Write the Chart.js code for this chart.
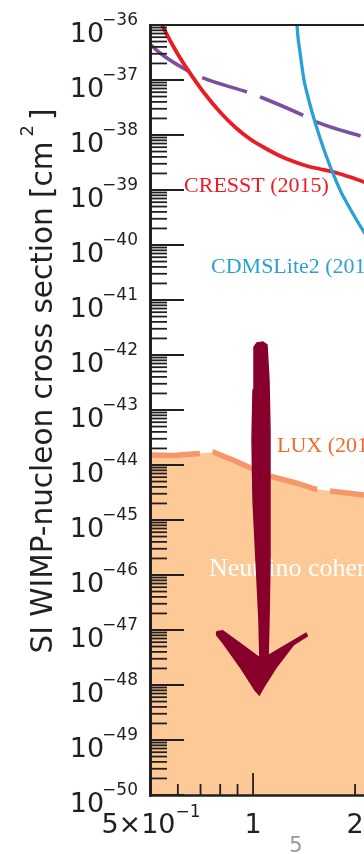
<!DOCTYPE html>
<html>
<head>
<meta charset="utf-8">
<script src="https://cdn.jsdelivr.net/npm/chart.js@4/dist/chart.umd.min.js"></script>
<style>
  html, body { margin: 0; padding: 0; background: #ffffff; overflow: hidden; }
  canvas { display: block; }
</style>
</head>
<body>
<canvas id="chart" width="364" height="854"></canvas>
<script>
// ---- axis ranges (WIMP mass in GeV, SI cross section in cm^2) ----
const massMin = 0.5;
const massMax = 2.125;
const sigmaMin = 1e-50;
const sigmaMax = 1e-36;

// ---- tick labels ----
const yLabelExponents = [-36, -37, -38, -39, -40, -41, -42, -43, -44, -45, -46, -47, -48, -49, -50];
const xLabelValues = [0.5, 1, 2];
const xLabelMain = ['5\u00d710', '1', '2'];
const xLabelSup = ['\u22121', '', ''];
const xMajorTicks = [1];
const xMinorTicks = [0.6, 0.7, 0.8, 0.9, 2];

// ---- CRESST (2015) limit ----
const cresstMass  = [0.521, 0.539, 0.5766, 0.6172, 0.6607, 0.7214, 0.7989, 0.8845, 0.9796, 1.0845, 1.2013, 1.3295, 1.4426, 1.5761, 1.769, 1.9323, 2.1247, 2.29];
const cresstSigma = [1.52e-36, 1.0e-36, 4.51e-37, 2.21e-37, 1.18e-37, 5.56e-38, 2.62e-38, 1.40e-38, 8.46e-39, 5.8e-39, 4.15e-39, 3.23e-39, 2.73e-39, 2.41e-39, 2.04e-39, 1.72e-39, 1.40e-39, 1.18e-39];

// ---- dashed purple limit ----
const purpleMass  = [0.5, 0.5315, 0.6213, 0.7116, 0.9796, 1.0697, 1.4426, 1.5441, 2.1247, 2.369];
const purpleSigma = [4.33e-37, 3.10e-37, 1.65e-37, 1.09e-37, 5.8e-38, 4.71e-38, 2.12e-38, 1.72e-38, 9.2e-39, 7.5e-39];

// ---- CDMSLite2 (2015) limit ----
const cdmsMass  = [1.3386, 1.3477, 1.3569, 1.3756, 1.4135, 1.4426, 1.4927, 1.5761, 1.6525, 1.7333, 1.8176, 1.9063, 2.0127, 2.1247, 2.2434];
const cdmsSigma = [1.52e-36, 1e-36, 6.05e-37, 3.23e-37, 1e-37, 5.8e-38, 2.62e-38, 8.82e-39, 3.82e-39, 1.80e-39, 9.2e-40, 5.34e-40, 2.97e-40, 1.72e-40, 1.04e-40];

// ---- LUX limit (edge of the shaded region) ----
const luxMass  = [0.5, 0.5806, 0.6974, 0.7617, 0.8726, 1.0, 1.1452, 1.3386, 1.5233, 1.6865, 2.1247, 2.369];
const luxSigma = [1.52e-44, 1.49e-44, 1.62e-44, 1.72e-44, 1.23e-44, 8.46e-45, 6.05e-45, 4.71e-45, 3.66e-45, 3.37e-45, 2.85e-45, 2.6e-45];

// ---- hand-drawn downward arrow (outline of shaft and head) ----
const arrowShaftMass  = [1.0065, 1.0272, 1.0697, 1.0993, 1.1144, 1.1220, 1.1220, 1.1220, 1.1144, 1.1069, 1.0483, 1.0412, 1.0202, 1.0, 0.9931, 1.0, 1.0065];
const arrowShaftSigma = [1.40e-42, 1.65e-42, 1.72e-42, 1.52e-42, 3.51e-43, 4.33e-44, 2.31e-45, 1.87e-46, 1.52e-47, 2.85e-48, 2.62e-48, 1.52e-47, 1.87e-46, 2.31e-45, 2.85e-44, 2.31e-43, 1.40e-42];
const arrowHeadMass  = [0.7811, 0.8136, 0.9151, 1.0605, 1.2283, 1.4329, 1.4456, 1.3145, 1.1741, 1.0845, 1.0434, 1.0133, 0.9151, 0.8169, 0.7811, 0.7811];
const arrowHeadSigma = [9.31e-48, 9.71e-48, 5.73e-48, 2.93e-48, 4.97e-48, 8.71e-48, 7.78e-48, 5.34e-48, 2.15e-48, 1.0e-48, 6.58e-49, 8.11e-49, 2.15e-48, 5.73e-48, 8.11e-48, 9.31e-48];

const INK = '#231f20';
const ARROW = '#87002c';
const SANS = '"DejaVu Sans", sans-serif';
const SERIF = '"Liberation Serif", "Times New Roman", serif';

const toPoints = (xs, ys) => xs.map((v, i) => ({ x: v, y: ys[i] }));

// curve labels, anchored in data units (left edge, baseline)
const curveLabels = [
  { text: 'CRESST (2015)', mass: 0.626, sigma: 9.2e-40, color: '#ec1c24', size: 22 },
  { text: 'CDMSLite2 (2015)', mass: 0.7516, sigma: 3.1e-41, color: '#2b9fd8', size: 22 },
  { text: 'LUX (2016)', mass: 1.1765, sigma: 1.72e-44, color: '#f26a2c', size: 22 },
  { text: 'Neutrino coherent scattering', mass: 0.7414, sigma: 9.6e-47, color: '#ffffff', size: 26 }
];

function drawCurveLabels(chart) {
  const { ctx, scales: { x, y } } = chart;
  ctx.save();
  ctx.textAlign = 'left';
  ctx.textBaseline = 'alphabetic';
  for (const l of curveLabels) {
    ctx.font = l.size + 'px ' + SERIF;
    ctx.fillStyle = l.color;
    ctx.fillText(l.text, x.getPixelForValue(l.mass), y.getPixelForValue(l.sigma));
  }
  ctx.restore();
}

const axesFrame = {
  id: 'axesFrame',
  afterDatasetDraw(chart, args) {
    if (chart.data.datasets[args.index].label === 'LUX') drawCurveLabels(chart);
  },
  afterDatasetsDraw(chart) {
    const { ctx, chartArea: a, scales: { x, y } } = chart;
    ctx.save();
    ctx.strokeStyle = INK;
    ctx.lineCap = 'butt';

    // y ticks (inside the frame): decades long, 2..9 short
    ctx.lineWidth = 1.8;
    for (const e of yLabelExponents) {
      const py = y.getPixelForValue(Math.pow(10, e));
      ctx.beginPath(); ctx.moveTo(a.left, py); ctx.lineTo(a.left + 33, py); ctx.stroke();
      if (e > -50) {
        for (let m = 2; m <= 9; m++) {
          const pm = y.getPixelForValue(m * Math.pow(10, e - 1));
          ctx.beginPath(); ctx.moveTo(a.left, pm); ctx.lineTo(a.left + 16, pm); ctx.stroke();
        }
      }
    }
    // x ticks
    for (const v of xMajorTicks) {
      const px = x.getPixelForValue(v);
      ctx.beginPath(); ctx.moveTo(px, a.bottom); ctx.lineTo(px, a.bottom - 22); ctx.stroke();
    }
    for (const v of xMinorTicks) {
      const px = x.getPixelForValue(v);
      ctx.beginPath(); ctx.moveTo(px, a.bottom); ctx.lineTo(px, a.bottom - 11); ctx.stroke();
    }

    // frame: left, bottom, top
    ctx.lineWidth = 3;
    ctx.beginPath(); ctx.moveTo(a.left - 0.5, a.top - 1); ctx.lineTo(a.left - 0.5, a.bottom + 1.5); ctx.stroke();
    ctx.lineWidth = 2.5;
    ctx.beginPath(); ctx.moveTo(a.left - 2, a.bottom + 0.5); ctx.lineTo(a.right, a.bottom + 0.5); ctx.stroke();
    ctx.lineWidth = 2;
    ctx.beginPath(); ctx.moveTo(a.left - 2, a.top); ctx.lineTo(a.right, a.top); ctx.stroke();

    // y tick labels: 10^e, right aligned
    ctx.fillStyle = INK;
    ctx.textBaseline = 'alphabetic';
    ctx.textAlign = 'left';
    const mainFont = '27px ' + SANS;
    const supFont = '17px ' + SANS;
    for (const e of yLabelExponents) {
      const py = y.getPixelForValue(Math.pow(10, e));
      const sup = '\u2212' + String(-e);
      ctx.font = supFont;
      const wSup = ctx.measureText(sup).width;
      ctx.font = mainFont;
      const wMain = ctx.measureText('10').width;
      const xSup = a.left - 13 - wSup;
      ctx.fillText('10', xSup - wMain + 2, py + 17);
      ctx.font = supFont;
      ctx.fillText(sup, xSup, py);
    }

    // x tick labels
    for (let i = 0; i < xLabelValues.length; i++) {
      const px = x.getPixelForValue(xLabelValues[i]);
      ctx.font = mainFont;
      const wMain = ctx.measureText(xLabelMain[i]).width;
      ctx.font = supFont;
      const wSup = xLabelSup[i] ? ctx.measureText(xLabelSup[i]).width : 0;
      const x0 = px - (wMain + wSup) / 2;
      ctx.font = mainFont;
      ctx.fillText(xLabelMain[i], x0, a.bottom + 38);
      if (xLabelSup[i]) {
        ctx.font = supFont;
        ctx.fillText(xLabelSup[i], x0 + wMain, a.bottom + 22);
      }
    }

    // y axis title, rotated
    ctx.save();
    ctx.translate(52, (a.top + a.bottom) / 2 - 29);
    ctx.rotate(-Math.PI / 2);
    const tMain = 'SI WIMP-nucleon cross section [cm';
    const tFont = '29.5px ' + SANS;
    const tSupFont = '18px ' + SANS;
    ctx.font = tFont;
    const w1 = ctx.measureText(tMain).width;
    const w3 = ctx.measureText(']').width;
    ctx.font = tSupFont;
    const w2 = ctx.measureText('2').width;
    const gap = 5;
    const total = w1 + gap + w2 + gap + w3;
    let tx = -total / 2;
    ctx.font = tFont;
    ctx.fillText(tMain, tx, 0);
    tx += w1 + gap;
    ctx.font = tSupFont;
    ctx.fillText('2', tx, -19);
    tx += w2 + gap;
    ctx.font = tFont;
    ctx.fillText(']', tx, 0);
    ctx.restore();

    // page number
    ctx.font = '21px ' + SANS;
    ctx.fillStyle = '#999999';
    ctx.textAlign = 'center';
    ctx.fillText('5', 296, 852);

    ctx.restore();
  }
};

new Chart(document.getElementById('chart'), {
  type: 'line',
  data: {
    datasets: [
      {
        label: 'arrowHead', data: toPoints(arrowHeadMass, arrowHeadSigma),
        borderColor: ARROW, backgroundColor: ARROW, borderWidth: 1.5, fill: 'shape',
        tension: 0, order: 0, clip: 0
      },
      {
        label: 'arrowShaft', data: toPoints(arrowShaftMass, arrowShaftSigma),
        borderColor: ARROW, backgroundColor: ARROW, borderWidth: 1.5, fill: 'shape',
        tension: 0, order: 1, clip: 0
      },
      {
        label: 'CDMSLite2', data: toPoints(cdmsMass, cdmsSigma),
        borderColor: '#2b9fd8', borderWidth: 3.3, fill: false,
        cubicInterpolationMode: 'monotone', order: 2, clip: 0
      },
      {
        label: 'CRESST', data: toPoints(cresstMass, cresstSigma),
        borderColor: '#ec1c24', borderWidth: 3.8, fill: false,
        cubicInterpolationMode: 'monotone', order: 3, clip: 0
      },
      {
        label: 'projected', data: toPoints(purpleMass, purpleSigma),
        borderColor: '#7a4fa0', borderWidth: 3.6, fill: false, borderDash: [47, 14],
        borderCapStyle: 'butt', cubicInterpolationMode: 'monotone', order: 4, clip: 0
      },
      {
        label: 'LUX', data: toPoints(luxMass, luxSigma),
        borderColor: '#f5976b', backgroundColor: '#fdca97', borderWidth: 5.5,
        fill: 'start', borderDash: [49, 13], borderCapStyle: 'butt',
        tension: 0, order: 5, clip: 0
      }
    ]
  },
  options: {
    responsive: false,
    animation: false,
    devicePixelRatio: 1,
    layout: { padding: { left: 151, right: 0, top: 25, bottom: 59 } },
    elements: { point: { radius: 0, hoverRadius: 0 } },
    plugins: { legend: { display: false }, tooltip: { enabled: false } },
    scales: {
      x: { type: 'logarithmic', min: massMin, max: massMax, display: false },
      y: { type: 'logarithmic', min: sigmaMin, max: sigmaMax, display: false }
    }
  },
  plugins: [axesFrame]
});
</script>
</body>
</html>
